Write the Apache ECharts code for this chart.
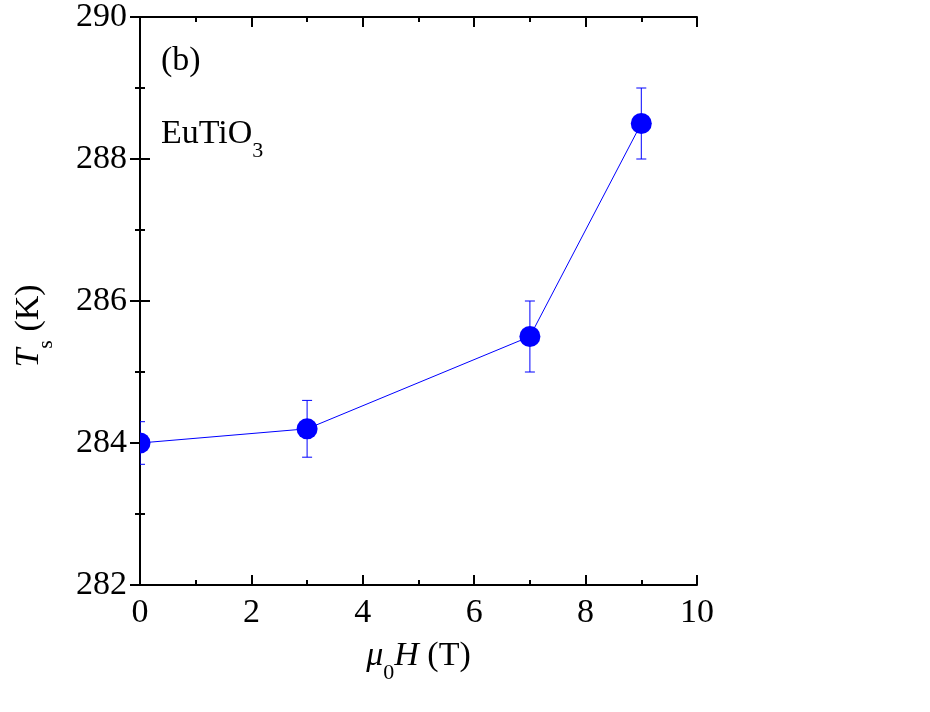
<!DOCTYPE html>
<html>
<head>
<meta charset="UTF-8">
<title>EuTiO3 Ts vs field</title>
<script src="https://cdn.jsdelivr.net/npm/echarts@6/dist/echarts.min.js"></script>
<style>
  html, body { margin: 0; padding: 0; background: #fff; }
  #chart { width: 930px; height: 712px; }
</style>
</head>
<body>
<div id="chart"></div>
<script type="text/javascript">
    // data
    var fieldT = [0, 3, 7, 9];
    var tempTs = [284.0, 284.2, 285.5, 288.5];
    var errTs = [0.3, 0.4, 0.5, 0.5];

    var blue = '#0000ff';
    var serif = '"Liberation Serif", "DejaVu Serif", serif';

    var points = [];
    for (var i = 0; i < fieldT.length; i++) {
        points.push([fieldT[i], tempTs[i], errTs[i]]);
    }

    // rich styles for text with a subscript
    var richSub = {
        i: {fontFamily: serif, fontSize: 34, fontStyle: 'italic', color: '#000', verticalAlign: 'bottom', padding: [0, 0, 11, 0]},
        n: {fontFamily: serif, fontSize: 34, color: '#000', verticalAlign: 'bottom', padding: [0, 0, 11, 0]},
        sub: {fontFamily: serif, fontSize: 22, color: '#000', verticalAlign: 'bottom'}
    };

    var baseAxis = {
        axisLine: {show: true, lineStyle: {color: '#000', width: 2}},
        axisTick: {show: true, inside: true, length: 10, lineStyle: {color: '#000', width: 2}},
        minorTick: {show: true, splitNumber: 2, length: 5, lineStyle: {color: '#000', width: 2}},
        splitLine: {show: false},
        minorSplitLine: {show: false}
    };

    var option = {
        backgroundColor: '#fff',
        animation: false,
        grid: {left: 140, top: 16, width: 557, height: 569, containLabel: false},
        xAxis: [
            Object.assign({}, baseAxis, {
                type: 'value', min: 0, max: 10, interval: 2, position: 'bottom',
                axisLabel: {color: '#000', fontFamily: serif, fontSize: 34, margin: 11},
                name: '{i|μ}{sub|0}{i|H}{n| (T)}',
                nameLocation: 'middle', nameGap: 54,
                nameTextStyle: {rich: richSub}
            }),
            Object.assign({}, baseAxis, {
                type: 'value', min: 0, max: 10, interval: 2, position: 'top',
                axisLabel: {show: false}
            })
        ],
        yAxis: [
            Object.assign({}, baseAxis, {
                type: 'value', min: 282, max: 290, interval: 2, position: 'left',
                axisLabel: {color: '#000', fontFamily: serif, fontSize: 34, margin: 13}
            }),
            Object.assign({}, baseAxis, {
                type: 'value', min: 282, max: 290, interval: 2, position: 'right',
                axisLabel: {show: false}
            })
        ],
        graphic: [
            {
                type: 'text', x: 35, y: 326, rotation: Math.PI / 2, z: 10,
                style: {text: '{i|T}{sub|s}{n| (K)}', align: 'center', verticalAlign: 'middle', rich: richSub}
            },
            {
                type: 'text', left: 161, top: 44, z: 10,
                style: {text: '(b)', font: '34px ' + serif, fill: '#000'}
            },
            {
                type: 'text', left: 161, top: 117, z: 10,
                style: {text: '{n|EuTiO}{sub|3}', rich: richSub}
            }
        ],
        series: [
            {
                type: 'line',
                data: points,
                symbol: 'none',
                lineStyle: {color: blue, width: 1},
                clip: true,
                z: 2
            },
            {
                type: 'custom',
                data: points,
                clip: true,
                z: 3,
                renderItem: function (params, api) {
                    var x = api.value(0), y = api.value(1), e = api.value(2);
                    var c = api.coord([x, y]);
                    var hi = api.coord([x, y + e]);
                    var lo = api.coord([x, y - e]);
                    var w = 5;
                    var st = {stroke: blue, lineWidth: 1};
                    return {
                        type: 'group',
                        children: [
                            {type: 'line', shape: {x1: hi[0], y1: hi[1], x2: lo[0], y2: lo[1]}, style: st},
                            {type: 'line', shape: {x1: hi[0] - w, y1: hi[1], x2: hi[0] + w, y2: hi[1]}, style: st},
                            {type: 'line', shape: {x1: lo[0] - w, y1: lo[1], x2: lo[0] + w, y2: lo[1]}, style: st},
                            {type: 'circle', shape: {cx: c[0], cy: c[1], r: 10.5}, style: {fill: blue}}
                        ]
                    };
                }
            }
        ]
    };

    var myChart = echarts.init(document.getElementById('chart'));
    myChart.setOption(option);
</script>
</body>
</html>
